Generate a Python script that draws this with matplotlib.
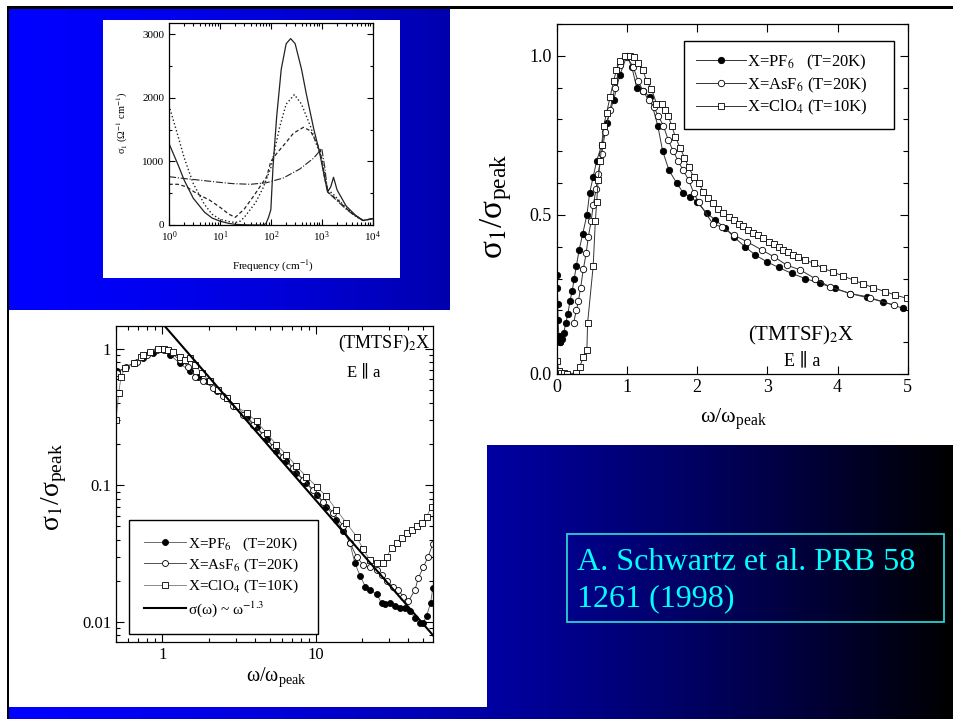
import numpy as np
import matplotlib
matplotlib.use("Agg")
import matplotlib.pyplot as plt
from matplotlib.lines import Line2D
from matplotlib.patches import Rectangle
from matplotlib.ticker import MultipleLocator, FixedLocator, FixedFormatter, LogLocator, NullFormatter

plt.rcParams['font.family'] = ['Liberation Serif', 'DejaVu Serif']
plt.rcParams['mathtext.fontset'] = 'stix'

# ---------------- data: inset (sigma_1 vs frequency) ----------------
freq_solid = [1, 1.5, 2, 3, 5, 7, 10, 15, 20, 30, 50, 70, 80, 90, 100, 110, 130, 160, 200, 245, 300, 400, 500, 700, 900, 1100, 1300, 1500, 1700, 2000, 3000, 4500, 6500, 10000]
sig_solid = [1280, 950, 700, 420, 200, 110, 60, 25, 10, 3, 0, 0, 20, 120, 240, 900, 1700, 2450, 2850, 2930, 2850, 2450, 2050, 1500, 1150, 800, 520, 600, 750, 550, 300, 160, 70, 100]
freq_dotted = [1, 1.5, 2, 3, 5, 7, 10, 15, 20, 25, 30, 50, 70, 100, 150, 200, 290, 400, 600, 800, 1000, 1300, 1700, 2000, 3000, 4500, 6500, 10000]
sig_dotted = [1880, 1400, 1050, 650, 320, 170, 90, 55, 40, 60, 120, 350, 580, 900, 1550, 1900, 2050, 1900, 1550, 1250, 1050, 560, 480, 420, 270, 150, 70, 100]
freq_dashed = [1, 1.5, 2.2, 3, 4, 6.3, 10, 15, 20, 30, 45, 83, 100, 131, 200, 277, 437, 600, 930, 1100, 1300, 2000, 3000, 4500, 6500, 10000]
sig_dashed = [640, 640, 600, 530, 470, 390, 280, 170, 120, 250, 445, 760, 1000, 1127, 1300, 1442, 1536, 1480, 1180, 800, 520, 400, 260, 150, 70, 100]
freq_dashdot = [1, 2, 4, 10, 18, 40, 83, 177, 370, 690, 1000, 1150, 1300, 2000, 3000, 4500, 6500, 10000]
sig_dashdot = [760, 730, 705, 670, 650, 640, 665, 740, 880, 1050, 1200, 900, 520, 380, 250, 140, 70, 100]

# ---------------- data: linear normalized plot ----------------
lin_pf6_x = [0.005, 0.01, 0.015, 0.02, 0.03, 0.04, 0.05, 0.07, 0.1, 0.13, 0.16, 0.19, 0.22, 0.25, 0.28, 0.32, 0.37, 0.43, 0.47, 0.52, 0.57, 0.64, 0.71, 0.81, 0.90, 1.0, 1.07, 1.14, 1.23, 1.33, 1.44, 1.51, 1.60, 1.71, 1.80, 1.90, 2.0, 2.14, 2.26, 2.40, 2.53, 2.68, 2.83, 2.99, 3.16, 3.35, 3.54, 3.75, 3.96, 4.18, 4.42, 4.65, 4.94]
lin_pf6_y = [0.31, 0.27, 0.22, 0.17, 0.12, 0.10, 0.10, 0.11, 0.13, 0.16, 0.19, 0.23, 0.26, 0.30, 0.34, 0.39, 0.44, 0.50, 0.57, 0.62, 0.67, 0.72, 0.79, 0.86, 0.94, 1.0, 0.965, 0.90, 0.89, 0.87, 0.78, 0.70, 0.64, 0.60, 0.57, 0.557, 0.54, 0.505, 0.484, 0.458, 0.43, 0.40, 0.374, 0.353, 0.335, 0.316, 0.30, 0.285, 0.269, 0.253, 0.243, 0.227, 0.206]
lin_asf6_x = [0.24, 0.28, 0.31, 0.34, 0.38, 0.42, 0.45, 0.49, 0.52, 0.56, 0.59, 0.64, 0.69, 0.76, 0.83, 0.90, 1.0, 1.09, 1.16, 1.23, 1.31, 1.38, 1.45, 1.52, 1.59, 1.66, 1.73, 1.80, 1.88, 1.95, 2.02, 2.23, 2.35, 2.52, 2.71, 2.92, 3.09, 3.28, 3.47, 3.68, 3.89, 4.18, 4.46, 4.80]
lin_asf6_y = [0.16, 0.20, 0.23, 0.27, 0.33, 0.38, 0.43, 0.48, 0.53, 0.58, 0.63, 0.69, 0.76, 0.83, 0.90, 0.97, 0.997, 0.965, 0.92, 0.89, 0.86, 0.84, 0.81, 0.78, 0.735, 0.70, 0.67, 0.64, 0.61, 0.57, 0.54, 0.47, 0.463, 0.437, 0.416, 0.39, 0.369, 0.342, 0.327, 0.30, 0.274, 0.253, 0.238, 0.217]
lin_clo4_x = [0.01, 0.03, 0.06, 0.1, 0.15, 0.28, 0.33, 0.38, 0.43, 0.44, 0.52, 0.55, 0.57, 0.59, 0.62, 0.64, 0.67, 0.71, 0.76, 0.81, 0.85, 0.90, 0.97, 1.04, 1.10, 1.16, 1.23, 1.28, 1.35, 1.42, 1.50, 1.54, 1.59, 1.64, 1.69, 1.76, 1.82, 1.88, 1.95, 2.02, 2.09, 2.16, 2.23, 2.30, 2.37, 2.45, 2.52, 2.59, 2.66, 2.73, 2.80, 2.87, 2.94, 3.02, 3.09, 3.16, 3.23, 3.30, 3.37, 3.44, 3.54, 3.66, 3.80, 3.94, 4.08, 4.23, 4.37, 4.51, 4.68, 4.82, 4.99]
lin_clo4_y = [0.04, 0.008, 0.004, 0.002, 0.001, 0.003, 0.023, 0.054, 0.075, 0.16, 0.34, 0.48, 0.54, 0.61, 0.67, 0.72, 0.78, 0.82, 0.87, 0.92, 0.955, 0.985, 0.999, 0.999, 0.997, 0.976, 0.955, 0.92, 0.897, 0.85, 0.85, 0.83, 0.81, 0.78, 0.745, 0.71, 0.68, 0.65, 0.62, 0.60, 0.573, 0.552, 0.536, 0.52, 0.505, 0.494, 0.484, 0.473, 0.465, 0.454, 0.444, 0.437, 0.426, 0.416, 0.408, 0.40, 0.39, 0.384, 0.374, 0.369, 0.358, 0.348, 0.332, 0.32, 0.308, 0.295, 0.283, 0.271, 0.259, 0.248, 0.238]

# ---------------- data: log-log normalized plot ----------------
log_pf6_x = [0.505, 0.57, 0.65, 0.75, 0.87, 1.0, 1.12, 1.30, 1.51, 1.71, 1.94, 2.26, 2.62, 3.04, 3.54, 4.11, 4.77, 5.53, 6.43, 7.47, 8.67, 10.1, 11.7, 13.6, 15.1, 16.6, 17.9, 19.4, 21.0, 22.4, 24.8, 26.7, 28.1, 30.3, 32.6, 35.2, 37.9, 40.9, 44.1, 47.5, 49.9, 52.4, 55.7, 57.5]
log_pf6_y = [0.686, 0.725, 0.79, 0.86, 0.935, 1.0, 0.91, 0.79, 0.69, 0.63, 0.58, 0.49, 0.44, 0.38, 0.32, 0.27, 0.22, 0.18, 0.15, 0.123, 0.104, 0.085, 0.070, 0.056, 0.046, 0.038, 0.027, 0.0216, 0.018, 0.017, 0.016, 0.0137, 0.0134, 0.0137, 0.013, 0.0126, 0.0126, 0.012, 0.0106, 0.0098, 0.0098, 0.011, 0.0137, 0.0176]
log_asf6_x = [0.505, 0.585, 0.68, 0.79, 0.92, 1.02, 1.15, 1.30, 1.48, 1.63, 1.85, 2.15, 2.49, 2.89, 3.37, 3.91, 4.54, 5.27, 6.13, 7.12, 8.27, 9.6, 11.1, 13.0, 15.1, 16.6, 18.4, 20.3, 22.4, 24.8, 26.7, 28.9, 31.8, 34.4, 37.0, 40.0, 44.1, 46.4, 49.9, 53.6, 57.5]
log_asf6_y = [0.667, 0.746, 0.81, 0.91, 0.99, 0.99, 0.935, 0.835, 0.746, 0.63, 0.58, 0.52, 0.45, 0.38, 0.33, 0.28, 0.235, 0.193, 0.163, 0.134, 0.110, 0.093, 0.076, 0.063, 0.050, 0.038, 0.030, 0.026, 0.025, 0.024, 0.022, 0.020, 0.018, 0.017, 0.0153, 0.0141, 0.0172, 0.021, 0.025, 0.030, 0.037]
log_clo4_x = [0.50, 0.52, 0.54, 0.57, 0.65, 0.73, 0.75, 0.83, 0.94, 1.02, 1.09, 1.18, 1.30, 1.40, 1.51, 1.63, 1.80, 2.04, 2.31, 2.62, 3.04, 3.54, 4.11, 4.77, 5.53, 6.43, 7.47, 8.67, 10.1, 11.7, 13.6, 15.8, 18.4, 20.3, 22.4, 24.8, 27.4, 28.9, 31.1, 33.6, 36.2, 39.0, 42.1, 45.4, 48.9, 52.4, 56.6]
log_clo4_y = [0.30, 0.475, 0.63, 0.725, 0.79, 0.88, 0.91, 0.96, 1.0, 1.0, 0.99, 0.96, 0.88, 0.835, 0.86, 0.77, 0.667, 0.58, 0.50, 0.44, 0.38, 0.34, 0.295, 0.242, 0.199, 0.168, 0.138, 0.116, 0.098, 0.083, 0.066, 0.053, 0.042, 0.034, 0.0285, 0.027, 0.027, 0.030, 0.035, 0.038, 0.041, 0.045, 0.047, 0.050, 0.053, 0.059, 0.070]
powerlaw_amp = 1.55
powerlaw_exp = -1.3
powerlaw_range = [1.0, 60.0]

legend_labels = ["X=PF$_6$   (T=20K)", "X=AsF$_6$ (T=20K)", "X=ClO$_4$ (T=10K)"]
powerlaw_label = "σ(ω) ~ ω$^{-1.3}$"

W, H = 954, 719
fig = plt.figure(figsize=(W / 100, H / 100), dpi=100)


def fpos(l, r, t, b):
    return [l / W, 1 - b / H, (r - l) / W, (b - t) / H]


# ---------------- slide background ----------------
bg = fig.add_axes([0, 0, 1, 1], zorder=0)
t = np.linspace(0, 1, 945)
blue = 1 - t ** 1.5
img = np.zeros((1, 945, 3))
img[0, :, 2] = blue
bg.imshow(img, extent=(9, W, H, 9), aspect='auto', interpolation='bilinear')
bg.add_patch(Rectangle((450, 9), W - 450, 436, fc='white', ec='none'))
bg.add_patch(Rectangle((9, 310), 478, 397, fc='white', ec='none'))
bg.add_patch(Rectangle((103, 20), 297, 258, fc='white', ec='none'))
bg.add_patch(Rectangle((7, 5.5), W - 7, 3, fc='black', ec='none'))
bg.add_patch(Rectangle((7, 5.5), 2, H, fc='black', ec='none'))
bg.add_patch(Rectangle((566.7, 534), 377.3, 88, fill=False, ec='#2CCFCF', lw=1.3))
bg.text(576.7, 570, "A. Schwartz et al. PRB 58", color='#00FFFF', fontsize=23.1,
        ha='left', va='baseline')
bg.text(576.7, 606.7, "1261 (1998)", color='#00FFFF', fontsize=23.1,
        ha='left', va='baseline')
bg.set_xlim(0, W)
bg.set_ylim(H, 0)
bg.axis('off')


def style_ticks(ax, size, major=5, minor=2.5):
    ax.tick_params(which='both', direction='in', top=True, right=True, labelsize=size,
                   width=0.8)
    ax.tick_params(which='major', length=major)
    ax.tick_params(which='minor', length=minor)
    for s in ax.spines.values():
        s.set_linewidth(0.9)


# ---------------- inset ----------------
ax1 = fig.add_axes(fpos(169, 372.7, 22.7, 225), zorder=2)
lc = '#222222'
ax1.plot(freq_solid, sig_solid, '-', color=lc, lw=0.9)
ax1.plot(freq_dotted, sig_dotted, ':', color=lc, lw=1.0)
ax1.plot(freq_dashed, sig_dashed, '--', color=lc, lw=0.9, dashes=(3, 2))
ax1.plot(freq_dashdot, sig_dashdot, '-.', color=lc, lw=0.8)
ax1.set_xscale('log')
ax1.set_xlim(1, 1e4)
ax1.set_ylim(0, 3180)
ax1.yaxis.set_major_locator(FixedLocator([0, 1000, 2000, 3000]))
ax1.yaxis.set_minor_locator(MultipleLocator(500))
ax1.xaxis.set_minor_locator(LogLocator(base=10, subs=np.arange(2, 10) * 1.0))
ax1.xaxis.set_minor_formatter(NullFormatter())
style_ticks(ax1, 8, 4, 2)
ax1.set_xlabel("Frequency (cm$^{-1}$)", fontsize=8)
ax1.set_ylabel("σ$_1$ (Ω$^{-1}$ cm$^{-1}$)", fontsize=7.5)
ax1.xaxis.set_label_coords(0.512, -0.165)
ax1.yaxis.set_label_coords(-0.19, 0.503)

# ---------------- linear normalized ----------------
ax2 = fig.add_axes(fpos(556.7, 907.7, 24, 374), zorder=2)
gl = '#333333'
ms = 4.6
h_pf6, = ax2.plot(lin_pf6_x, lin_pf6_y, '-', color=gl, lw=0.7, marker='o', ms=ms,
                  mfc='black', mec='black', mew=0.6)
h_asf6, = ax2.plot(lin_asf6_x, lin_asf6_y, '-', color=gl, lw=0.7, marker='o', ms=ms,
                   mfc='white', mec='black', mew=0.6)
h_clo4, = ax2.plot(lin_clo4_x, lin_clo4_y, '-', color=gl, lw=0.7, marker='s', ms=ms,
                   mfc='white', mec='black', mew=0.6)
ax2.set_xlim(0, 5)
ax2.set_ylim(0, 1.1)
ax2.xaxis.set_major_locator(MultipleLocator(1))
ax2.yaxis.set_major_locator(FixedLocator([0.0, 0.5, 1.0]))
ax2.yaxis.set_major_formatter(FixedFormatter(["0.0", "0.5", "1.0"]))
ax2.yaxis.set_minor_locator(MultipleLocator(0.1))
style_ticks(ax2, 13, 6, 3.5)
ax2.set_xlabel("ω/ω$\\mathregular{_{peak}}$", fontsize=16)
ax2.set_ylabel("σ$_1$/σ$\\mathregular{_{peak}}$", fontsize=24)
ax2.xaxis.set_label_coords(0.503, -0.093)
ax2.yaxis.set_label_coords(-0.122, 0.48)
leg2 = ax2.legend([h_pf6, h_asf6, h_clo4], legend_labels, loc='upper left',
                  bbox_to_anchor=(0.3627, 0.709, 0.598, 0.243), mode='expand',
                  borderaxespad=0, fontsize=12,
                  handlelength=3.0, numpoints=1, fancybox=False, edgecolor='black',
                  framealpha=1, borderpad=0.7, labelspacing=0.22, handletextpad=0.1)
leg2.get_frame().set_linewidth(1.0)
ax2.text(0.698, 0.111, "(TMTSF)$_2$X", transform=ax2.transAxes, fontsize=15,
         ha='center', va='center')
ax2.text(0.698, 0.038, "E ∥ a", transform=ax2.transAxes, fontsize=13,
         ha='center', va='center')

# ---------------- log-log normalized ----------------
ax3 = fig.add_axes(fpos(116, 433.3, 326, 642.3), zorder=2)
ms3 = 4.3
g3, = ax3.plot(log_pf6_x, log_pf6_y, '-', color='#555555', lw=0.6, marker='o', ms=ms3,
               mfc='black', mec='black', mew=0.6)
a3, = ax3.plot(log_asf6_x, log_asf6_y, '-', color='#333333', lw=0.6, marker='o', ms=ms3,
               mfc='white', mec='black', mew=0.6)
c3, = ax3.plot(log_clo4_x, log_clo4_y, '-', color='#777777', lw=0.6, marker='s', ms=ms3,
               mfc='white', mec='black', mew=0.6)
pw_x = np.geomspace(powerlaw_range[0], powerlaw_range[1], 50)
p3, = ax3.plot(pw_x, powerlaw_amp * pw_x ** powerlaw_exp, '-', color='black', lw=1.5)
ax3.set_xscale('log')
ax3.set_yscale('log')
ax3.set_xlim(0.5, 58)
ax3.set_ylim(0.00706, 1.48)
ax3.xaxis.set_major_locator(FixedLocator([1, 10]))
ax3.xaxis.set_major_formatter(FixedFormatter(["1", "10"]))
ax3.xaxis.set_minor_locator(LogLocator(base=10, subs=np.arange(2, 10) * 1.0))
ax3.xaxis.set_minor_formatter(NullFormatter())
ax3.yaxis.set_major_locator(FixedLocator([0.01, 0.1, 1]))
ax3.yaxis.set_major_formatter(FixedFormatter(["0.01", "0.1", "1"]))
ax3.yaxis.set_minor_locator(LogLocator(base=10, subs=np.arange(2, 10) * 1.0))
ax3.yaxis.set_minor_formatter(NullFormatter())
style_ticks(ax3, 12, 6, 3)
ax3.set_xlabel("ω/ω$\\mathregular{_{peak}}$", fontsize=14.5)
ax3.set_ylabel("σ$_1$/σ$\\mathregular{_{peak}}$", fontsize=20)
ax3.xaxis.set_label_coords(0.506, -0.072)
ax3.yaxis.set_label_coords(-0.147, 0.492)
leg3 = ax3.legend([g3, a3, c3, p3], legend_labels + [powerlaw_label], loc='lower left',
                  bbox_to_anchor=(0.041, 0.026, 0.596, 0.354), mode='expand',
                  borderaxespad=0, fontsize=11,
                  handlelength=2.75, numpoints=1, fancybox=False, edgecolor='black',
                  framealpha=1, borderpad=1.0, labelspacing=0.26, handletextpad=0.1)
leg3.get_frame().set_linewidth(1.0)
ax3.text(0.845, 0.945, "(TMTSF)$_2$X", transform=ax3.transAxes, fontsize=13,
         ha='center', va='center')
ax3.text(0.782, 0.855, "E ∥ a", transform=ax3.transAxes, fontsize=12,
         ha='center', va='center')

fig.savefig("out.png", dpi=100)
